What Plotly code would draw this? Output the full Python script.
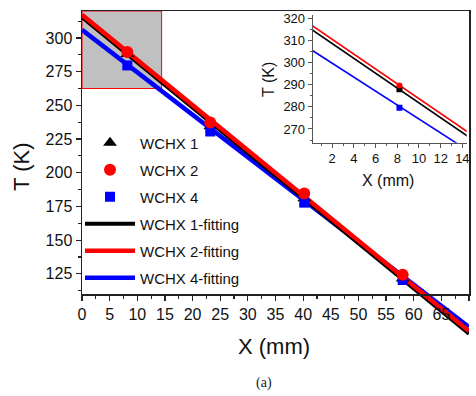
import plotly.graph_objects as go

# ---- data ----
x_pos = [8.2, 23.2, 40.2, 58.0]
t_wchx1 = [288.0, 234.5, 181.0, 121.5]
t_wchx2 = [289.6, 237.3, 184.5, 124.2]
t_wchx4 = [279.6, 230.6, 177.8, 120.4]

fit_x = [0.0, 70.0]
fit_wchx1 = [315.3, 80.5]
fit_wchx2 = [317.2, 82.5]
fit_wchx4 = [306.0, 85.5]

x_ticks = [0, 5, 10, 15, 20, 25, 30, 35, 40, 45, 50, 55, 60, 65, 70]
y_ticks = [125, 150, 175, 200, 225, 250, 275, 300]
inset_x_ticks = [2, 4, 6, 8, 10, 12, 14]
inset_y_ticks = [270, 280, 290, 300, 310, 320]

zoom_x = [0.0, 14.4]
zoom_y = [262.5, 320.0]

BLACK = "#000000"
RED = "#ff0000"
BLUE = "#0000ff"
FONT = "Arial, Liberation Sans, sans-serif"

# ---- geometry (px) ----
W, H = 476, 396
ML, MR, MT, MB = 82, 7, 11, 50
PW, PH = W - ML - MR, H - MT - MB
main_bottom_px = 294
y_main = [110.0, 320.0]
main_h = main_bottom_px - MT
ext_low = y_main[1] - (y_main[1] - y_main[0]) * PH / main_h


def px_x(p):
    return (p - ML) / PW


def px_y(p):
    return (H - MB - p) / PH


fig = go.Figure()

# invisible anchor trace so that the framed main axes are drawn
fig.add_trace(go.Scatter(x=[None], y=[None], mode="markers", showlegend=False,
                         hoverinfo="skip", xaxis="x2", yaxis="y2"))

fits = [("WCHX 4-fitting", fit_wchx4, BLUE, 4.5, 6),
        ("WCHX 1-fitting", fit_wchx1, BLACK, 3.8, 4),
        ("WCHX 2-fitting", fit_wchx2, RED, 4.5, 5)]
for name, ys, col, w, rank in fits:
    fig.add_trace(go.Scatter(x=fit_x, y=ys, mode="lines", name=name,
                             line=dict(color=col, width=w),
                             legendgroup=name, legendrank=rank,
                             xaxis="x", yaxis="y"))

markers = [("WCHX 1", t_wchx1, BLACK, "triangle-up", 12, 1),
           ("WCHX 4", t_wchx4, BLUE, "square", 10, 3),
           ("WCHX 2", t_wchx2, RED, "circle", 12, 2)]
for name, ys, col, sym, sz, rank in markers:
    fig.add_trace(go.Scatter(x=x_pos, y=ys, mode="markers", name=name,
                             marker=dict(color=col, symbol=sym, size=sz),
                             legendgroup=name, legendrank=rank,
                             cliponaxis=False, xaxis="x", yaxis="y"))

# inset traces
for name, ys, col, w, rank in fits:
    fig.add_trace(go.Scatter(x=fit_x, y=ys, mode="lines", showlegend=False,
                             line=dict(color=col, width=1.6),
                             xaxis="x3", yaxis="y3"))
for name, ys, col, sym, sz, rank in markers:
    fig.add_trace(go.Scatter(x=x_pos, y=ys, mode="markers", showlegend=False,
                             marker=dict(color=col, symbol="square" if sym != "circle" else "circle",
                                         size=6),
                             xaxis="x3", yaxis="y3"))

fig.add_shape(type="rect", xref="x", yref="y",
              x0=zoom_x[0], x1=zoom_x[1], y0=zoom_y[0], y1=zoom_y[1],
              fillcolor="#c0c0c0", line=dict(color=RED, width=1), layer="below")

y_dom_main = [px_y(main_bottom_px), 1]

axis_font = dict(family=FONT, size=16, color="#111")
fig.update_layout(
    width=W, height=H,
    margin=dict(l=ML, r=MR, t=MT, b=MB, autoexpand=False),
    paper_bgcolor="white", plot_bgcolor="rgba(0,0,0,0)",
    font=dict(family=FONT, color="#111"),
    hovermode=False,
    xaxis=dict(domain=[0, 1], range=[0, 70], visible=False, anchor="y", automargin=False),
    yaxis=dict(domain=[0, 1], range=[ext_low, y_main[1]], visible=False, anchor="x", automargin=False),
    xaxis2=dict(domain=[0, 1], range=[0, 70], anchor="y2", automargin=False,
                showline=True, linecolor="#222", linewidth=1.5, mirror=True,
                ticks="outside", ticklen=5, tickwidth=1.2, tickcolor="#222",
                tickvals=x_ticks, tickfont=axis_font, showgrid=False, zeroline=False,
                minor=dict(ticks="outside", ticklen=3, dtick=2.5, tick0=0, tickcolor="#222", showgrid=False)),
    yaxis2=dict(domain=y_dom_main, range=y_main, anchor="x2", automargin=False,
                showline=True, linecolor="#222", linewidth=1.5, mirror=True,
                ticks="outside", ticklen=5, tickwidth=1.2, tickcolor="#222",
                tickvals=y_ticks, tickfont=axis_font, showgrid=False, zeroline=False,
                minor=dict(ticks="outside", ticklen=3, dtick=12.5, tick0=0, tickcolor="#222", showgrid=False)),
    xaxis3=dict(domain=[px_x(312.7), px_x(466.7)], range=[0.2, 14.4], anchor="y3", automargin=False,
                showline=True, linecolor="#555", linewidth=1, mirror=False,
                ticks="outside", ticklen=4, tickwidth=1, tickcolor="#555",
                tickvals=inset_x_ticks, tickfont=dict(family=FONT, size=13, color="#111"),
                showgrid=False, zeroline=False,
                minor=dict(ticks="outside", ticklen=2, dtick=1, tick0=0, tickcolor="#555", showgrid=False)),
    yaxis3=dict(domain=[px_y(142.7), px_y(15)], range=[263.8, 321.5], anchor="x3", automargin=False,
                showline=True, linecolor="#555", linewidth=1, mirror=False,
                ticks="outside", ticklen=4, tickwidth=1, tickcolor="#555",
                tickvals=inset_y_ticks, tickfont=dict(family=FONT, size=13, color="#111"),
                showgrid=False, zeroline=False,
                minor=dict(ticks="outside", ticklen=2, dtick=5, tick0=0, tickcolor="#555", showgrid=False)),
    showlegend=True,
    legend=dict(x=px_x(80), y=px_y(126.5), xanchor="left", yanchor="top",
                bgcolor="rgba(0,0,0,0)", font=dict(family=FONT, size=15, color="#111"),
                tracegroupgap=4.5, itemwidth=50, traceorder="grouped"),
)

annots = [
    dict(text="T (K)", x=px_x(21), y=px_y(167), textangle=-90, size=22),
    dict(text="X (mm)", x=px_x(274), y=px_y(346), textangle=0, size=22),
    dict(text="T (K)", x=px_x(268), y=px_y(80), textangle=-90, size=16),
    dict(text="X (mm)", x=px_x(388), y=px_y(180), textangle=0, size=16),
]
for a in annots:
    fig.add_annotation(text=a["text"], x=a["x"], y=a["y"], xref="paper", yref="paper",
                       xanchor="center", yanchor="middle", showarrow=False,
                       textangle=a["textangle"], font=dict(family=FONT, size=a["size"], color="#111"))
fig.add_annotation(text="(a)", x=px_x(264), y=px_y(383), xref="paper", yref="paper",
                   xanchor="center", yanchor="middle", showarrow=False,
                   font=dict(family="Liberation Serif, Times New Roman, serif", size=14, color="#222"))

fig.write_html("out.html", config={"displayModeBar": False, "staticPlot": True},
               post_script="document.body.style.margin='0';")
